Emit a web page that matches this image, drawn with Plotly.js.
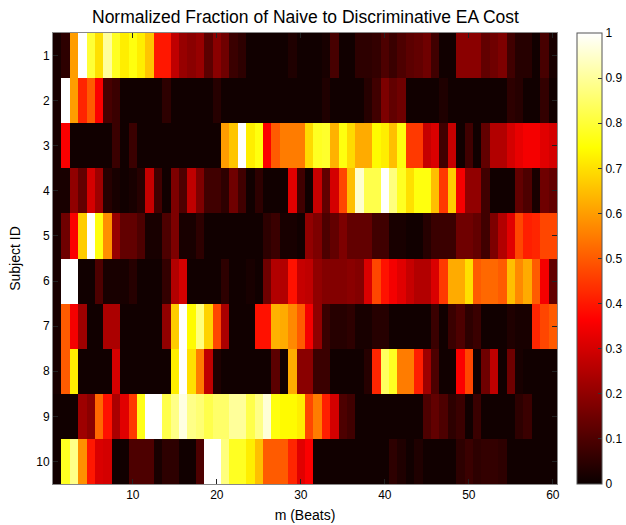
<!DOCTYPE html>
<html>
<head>
<meta charset="utf-8">
<script src="https://cdn.plot.ly/plotly-3.0.1.min.js"></script>
<style>html,body{margin:0;padding:0;background:#fff;}#chart{width:626px;height:525px;}</style>
</head>
<body>
<div id="chart"></div>
<script>
const subjectIds = [1,2,3,4,5,6,7,8,9,10];
const beats = [1,2,3,4,5,6,7,8,9,10,11,12,13,14,15,16,17,18,19,20,21,22,23,24,25,26,27,28,29,30,31,32,33,34,35,36,37,38,39,40,41,42,43,44,45,46,47,48,49,50,51,52,53,54,55,56,57,58,59,60];
const xTicks = [10,20,30,40,50,60];

const s1 = [0.02,0.05,0.6,1.0,0.8,0.7,0.9,0.78,0.72,0.76, 0.72,0.66,0.4,0.4,0.27,0.21,0.19,0.21,0.12,0.19, 0.15,0.07,0.05,0.01,0.01,0.01,0.01,0.01,0.03,0.01, 0.01,0.01,0.02,0.09,0.01,0.01,0.05,0.05,0.06,0.1, 0.07,0.1,0.12,0.13,0.15,0.08,0.01,0.01,0.19,0.19, 0.19,0.13,0.15,0.17,0.08,0.04,0.04,0.01,0.09,0.02];
const s2 = [0.02,1.0,0.6,0.42,0.5,0.36,0.09,0.07,0.01,0.01, 0.01,0.01,0.01,0.05,0.01,0.01,0.01,0.01,0.01,0.04, 0.01,0.01,0.01,0.01,0.01,0.01,0.01,0.01,0.01,0.01, 0.01,0.01,0.03,0.01,0.01,0.01,0.01,0.04,0.08,0.17, 0.13,0.15,0.01,0.01,0.01,0.01,0.03,0.01,0.01,0.01, 0.01,0.01,0.01,0.01,0.05,0.04,0.01,0.01,0.06,0.01];
const s3 = [0.02,0.36,0.01,0.01,0.01,0.01,0.01,0.07,0.01,0.07, 0.01,0.01,0.01,0.01,0.01,0.01,0.01,0.01,0.01,0.01, 0.6,0.66,1.0,0.72,0.76,0.36,0.5,0.55,0.55,0.55, 0.69,0.78,0.79,0.63,0.76,0.69,0.62,0.62,0.74,0.72, 0.65,0.76,0.45,0.45,0.28,0.31,0.08,0.28,0.01,0.08, 0.01,0.13,0.25,0.25,0.3,0.33,0.35,0.35,0.32,0.3];
const s4 = [0.02,0.02,0.2,0.13,0.3,0.22,0.04,0.02,0.01,0.02, 0.04,0.28,0.08,0.01,0.17,0.1,0.27,0.17,0.08,0.08, 0.05,0.15,0.08,0.01,0.05,0.01,0.01,0.01,0.32,0.08, 0.01,0.28,0.13,0.3,0.47,0.65,0.95,0.82,0.82,1.0, 0.87,0.78,0.7,0.76,0.76,0.65,0.45,0.67,0.35,0.2, 0.2,0.08,0.01,0.01,0.01,0.13,0.1,0.02,0.15,0.13];
const s5 = [0.02,0.15,0.36,0.67,1.0,0.76,0.58,0.21,0.13,0.13, 0.1,0.02,0.02,0.1,0.17,0.02,0.02,0.05,0.01,0.01, 0.01,0.01,0.01,0.01,0.01,0.05,0.07,0.02,0.02,0.01, 0.2,0.17,0.1,0.13,0.17,0.13,0.13,0.13,0.08,0.08, 0.02,0.02,0.01,0.01,0.04,0.07,0.07,0.07,0.15,0.15, 0.13,0.08,0.17,0.25,0.32,0.47,0.41,0.42,0.47,0.47];
const s6 = [0.02,1.0,1.0,0.01,0.01,0.1,0.02,0.02,0.02,0.04, 0.01,0.01,0.01,0.06,0.25,0.3,0.01,0.01,0.01,0.01, 0.05,0.01,0.01,0.02,0.01,0.15,0.25,0.25,0.39,0.28, 0.27,0.2,0.18,0.18,0.18,0.19,0.18,0.31,0.47,0.39, 0.35,0.32,0.28,0.25,0.25,0.31,0.45,0.62,0.62,0.7, 0.5,0.52,0.52,0.5,0.65,0.57,0.62,0.5,0.35,0.13];
const s7 = [0.02,0.5,0.35,0.22,0.01,0.01,0.24,0.24,0.01,0.01, 0.01,0.01,0.01,0.2,0.67,1.0,0.74,0.87,0.68,0.47, 0.24,0.01,0.01,0.01,0.39,0.39,0.63,0.62,0.57,0.5, 0.35,0.2,0.07,0.04,0.04,0.05,0.02,0.02,0.04,0.04, 0.01,0.01,0.01,0.01,0.01,0.07,0.01,0.07,0.1,0.05, 0.07,0.01,0.01,0.01,0.03,0.02,0.02,0.42,0.47,0.5];
const s8 = [0.02,0.5,0.72,0.01,0.01,0.01,0.01,0.3,0.01,0.01, 0.01,0.01,0.01,0.01,0.72,1.0,0.7,0.55,0.27,0.03, 0.01,0.01,0.01,0.01,0.01,0.01,0.12,0.01,0.62,0.19, 0.19,0.07,0.07,0.01,0.01,0.01,0.01,0.04,0.42,0.84, 0.78,0.55,0.55,0.41,0.22,0.1,0.01,0.01,0.36,0.47, 0.01,0.15,0.27,0.01,0.15,0.02,0.01,0.01,0.01,0.01];
const s9 = [0.01,0.01,0.01,0.22,0.19,0.52,0.39,0.24,0.32,0.45, 0.77,1.0,1.0,0.82,0.88,0.97,0.88,0.86,0.82,0.85, 0.85,0.9,0.9,0.82,0.88,0.96,0.76,0.74,0.74,0.72, 0.47,0.55,0.41,0.3,0.1,0.08,0.01,0.01,0.01,0.01, 0.01,0.01,0.01,0.01,0.1,0.13,0.1,0.05,0.07,0.01, 0.07,0.01,0.01,0.01,0.01,0.05,0.07,0.01,0.01,0.01];
const s10 = [0.01,0.78,0.88,0.58,0.4,0.31,0.3,0.01,0.01,0.1, 0.1,0.1,0.02,0.05,0.05,0.01,0.01,0.1,1.0,1.0, 0.87,0.78,0.78,0.72,0.65,0.5,0.5,0.5,0.42,0.32, 0.36,0.01,0.01,0.01,0.01,0.01,0.01,0.01,0.01,0.01, 0.05,0.03,0.01,0.03,0.01,0.01,0.01,0.01,0.05,0.07, 0.05,0.06,0.06,0.05,0.01,0.01,0.01,0.01,0.01,0.01];

const zRows = [s1,s2,s3,s4,s5,s6,s7,s8,s9,s10];

// MATLAB "hot" colormap, 64 levels
function hotScale(n){
  const out=[]; const n1=Math.round(3*n/8), n2=Math.round(3*n/8), n3=n-n1-n2;
  for(let i=0;i<n;i++){
    const r = Math.min(1,(i+1)/n1);
    const g = Math.max(0,Math.min(1,(i+1-n1)/n2));
    const b = Math.max(0,Math.min(1,(i+1-n1-n2)/n3));
    out.push([i/(n-1), 'rgb('+Math.round(r*255)+','+Math.round(g*255)+','+Math.round(b*255)+')']);
  }
  return out;
}

const font = 'Liberation Sans, Arial, Helvetica, sans-serif';

const trace = {
  type:'heatmap',
  x: beats, y: subjectIds, z: zRows,
  zmin:0, zmax:1,
  colorscale: hotScale(64),
  xgap:0, ygap:0,
  colorbar:{
    thickness:25, thicknessmode:'pixels',
    len:1, lenmode:'fraction', y:0.5, yanchor:'middle',
    x:1.04, xanchor:'left', xpad:0, ypad:0,
    outlinecolor:'#555', outlinewidth:1,
    tickmode:'array', tickvals:[0,0.1,0.2,0.3,0.4,0.5,0.6,0.7,0.8,0.9,1],
    ticktext:['0','0.1','0.2','0.3','0.4','0.5','0.6','0.7','0.8','0.9','1'],
    ticks:'inside', ticklen:4, tickcolor:'#333',
    tickfont:{family:font,size:12,color:'#000'}
  }
};

const layout = {
  width:626, height:525,
  margin:{l:53, r:69, t:33, b:41, autoexpand:false},
  paper_bgcolor:'#fff', plot_bgcolor:'#fff',
  title:{text:'Normalized Fraction of Naive to Discriminative EA Cost', font:{family:font,size:17.5,color:'#000'}, x:0.488, xanchor:'center', y:0.968, yanchor:'middle'},
  xaxis:{
    range:[0.5,60.5], tickmode:'array', tickvals:xTicks, ticktext:xTicks.map(String),
    ticks:'inside', ticklen:5, tickcolor:'#222', mirror:'ticks', showline:true, linecolor:'#888', linewidth:1,
    showgrid:false, zeroline:false,
    tickfont:{family:font,size:12,color:'#000'},
    title:{text:'m (Beats)', font:{family:font,size:14,color:'#000'}, standoff:8}
  },
  yaxis:{
    range:[10.5,0.5], tickmode:'array', tickvals:subjectIds, ticktext:subjectIds.map(String),
    ticks:'inside', ticklen:5, tickcolor:'#222', mirror:'ticks', showline:true, linecolor:'#888', linewidth:1,
    showgrid:false, zeroline:false,
    tickfont:{family:font,size:12,color:'#000'},
    title:{text:'Subject ID', font:{family:font,size:14,color:'#000'}, standoff:12}
  }
};

Plotly.newPlot('chart',[trace],layout,{displayModeBar:false,staticPlot:true});
</script>
</body>
</html>
